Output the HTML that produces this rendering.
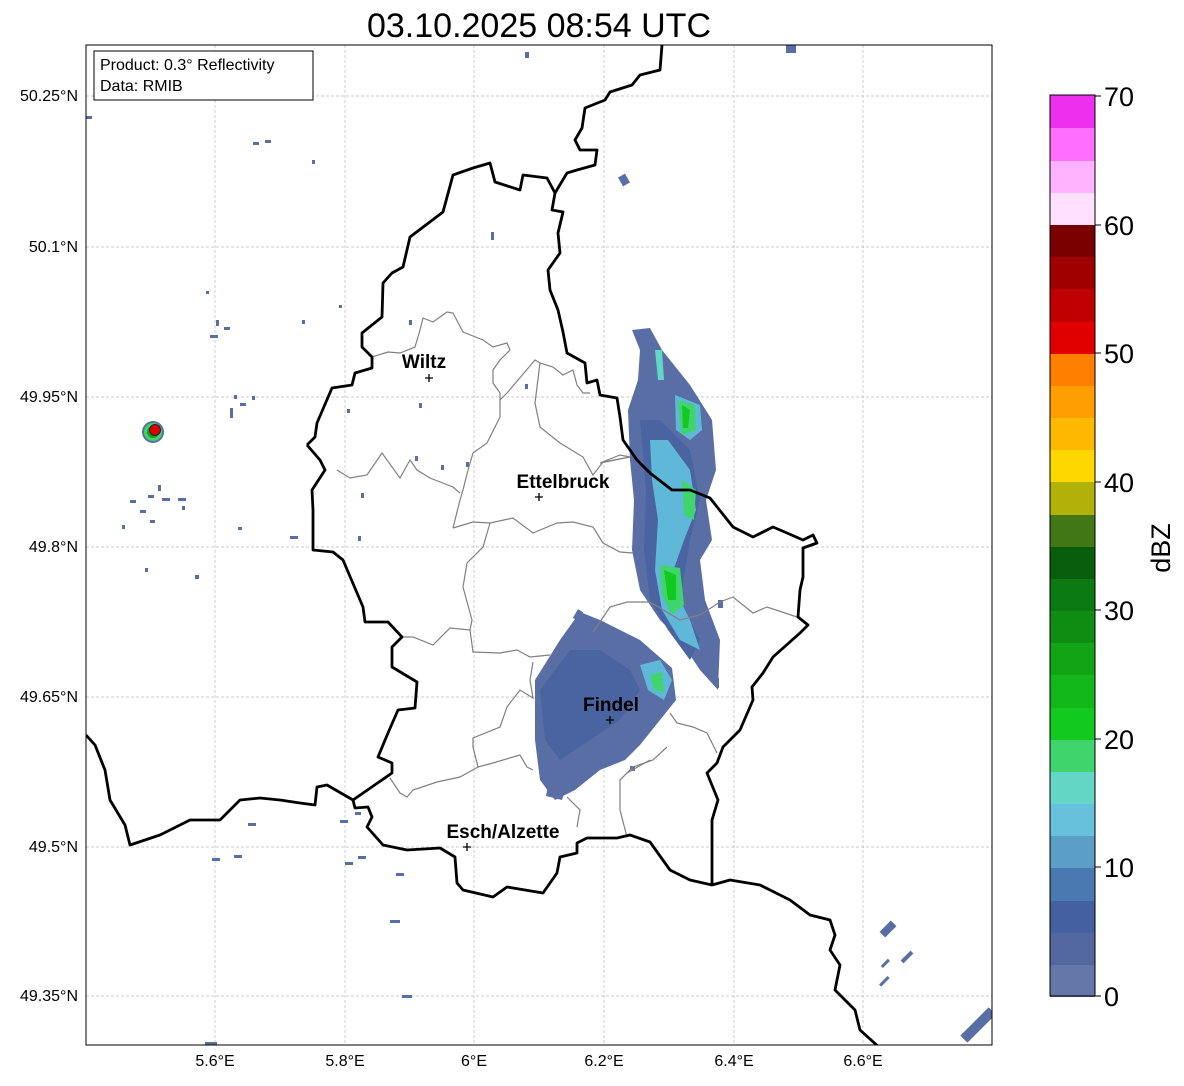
<!DOCTYPE html>
<html><head><meta charset="utf-8"><style>
body{margin:0;background:#fff;width:1184px;height:1081px;overflow:hidden;font-family:"Liberation Sans",sans-serif}
</style></head><body>
<svg width="1184" height="1081" xmlns="http://www.w3.org/2000/svg" font-family="Liberation Sans, sans-serif">
<text x="539" y="37" font-size="34" text-anchor="middle">03.10.2025 08:54 UTC</text>
<defs><clipPath id="c"><rect x="86" y="45" width="906" height="1000"/></clipPath></defs>
<g clip-path="url(#c)">
<g stroke="#bbb" stroke-width="0.7" stroke-dasharray="3,2">
<line x1="215" y1="45" x2="215" y2="1045"/><line x1="345" y1="45" x2="345" y2="1045"/><line x1="474" y1="45" x2="474" y2="1045"/><line x1="604" y1="45" x2="604" y2="1045"/><line x1="734" y1="45" x2="734" y2="1045"/><line x1="863" y1="45" x2="863" y2="1045"/>
<line x1="86" y1="96" x2="992" y2="96"/><line x1="86" y1="247" x2="992" y2="247"/><line x1="86" y1="397" x2="992" y2="397"/><line x1="86" y1="547" x2="992" y2="547"/><line x1="86" y1="697" x2="992" y2="697"/><line x1="86" y1="847" x2="992" y2="847"/><line x1="86" y1="996" x2="992" y2="996"/>
</g>
<!-- radar echoes -->
<g>
<polygon fill="#5a6ea6" points="632,330 650,328 662,350 690,385 712,420 716,470 706,500 712,540 700,560 705,600 720,640 718,690 700,670 680,640 660,620 640,590 632,550 634,500 630,460 628,410 638,380 640,350"/>
<polygon fill="#4a64a2" points="640,420 660,420 690,450 700,500 690,540 680,600 700,640 690,660 668,630 650,600 644,550 646,490"/>
<polygon fill="#5fb8d8" points="650,440 668,440 690,470 696,510 684,540 670,580 690,620 700,650 680,640 662,610 655,570 658,520 652,480"/>
<polygon fill="#63d6c6" points="655,350 662,350 664,380 658,380"/>
<polygon fill="#5fb8d8" points="675,395 700,405 702,430 690,440 676,430"/>
<polygon fill="#3fd46c" points="678,400 695,405 696,430 682,435"/>
<polygon fill="#12c920" points="682,405 690,410 688,428 683,428"/>
<polygon fill="#3fd46c" points="660,565 680,568 684,605 672,615 662,595"/>
<polygon fill="#12c920" points="664,570 676,575 676,600 668,600"/>
<polygon fill="#3fd46c" points="682,480 696,490 694,520 684,515"/>
<polygon fill="#5a6ea6" points="535,680 560,640 580,612 600,620 640,640 672,668 676,700 660,720 640,745 625,760 600,770 575,790 555,800 540,780 535,740"/>
<polygon fill="#4a64a2" points="540,690 570,650 600,650 630,670 640,690 620,720 590,740 560,760 545,740"/>
<polygon fill="#5fb8d8" points="640,665 660,660 672,680 664,700 648,690"/>
<polygon fill="#3fd46c" points="650,675 662,672 664,692 654,690"/>
<polygon fill="#5a6ea6" points="548,785 565,790 562,800 546,796"/>
<g fill="#5a6ea6">
<rect x="620" y="175" width="8" height="10" transform="rotate(-30 624 180)"/>
<rect x="491" y="232" width="3" height="8"/><rect x="525" y="52" width="4" height="6"/><rect x="786" y="45" width="10" height="8"/>
<rect x="253" y="142" width="6" height="3"/><rect x="265" y="140" width="6" height="3"/><rect x="312" y="160" width="3" height="4"/>
<rect x="86" y="116" width="6" height="3"/><rect x="206" y="291" width="3" height="3"/><rect x="210" y="335" width="8" height="3"/><rect x="224" y="327" width="6" height="3"/><rect x="216" y="320" width="3" height="6"/>
<rect x="302" y="320" width="3" height="4"/><rect x="339" y="305" width="3" height="3"/><rect x="409" y="320" width="3" height="5"/>
<rect x="234" y="395" width="3" height="4"/><rect x="230" y="408" width="3" height="10"/><rect x="240" y="403" width="6" height="3"/><rect x="252" y="396" width="3" height="4"/><rect x="347" y="409" width="3" height="4"/><rect x="419" y="403" width="3" height="5"/>
<rect x="415" y="456" width="3" height="5"/><rect x="441" y="465" width="3" height="5"/><rect x="466" y="462" width="3" height="5"/><rect x="361" y="493" width="3" height="5"/><rect x="525" y="384" width="3" height="5"/>
<rect x="130" y="500" width="6" height="3"/><rect x="148" y="495" width="6" height="3"/><rect x="158" y="485" width="3" height="6"/><rect x="162" y="498" width="8" height="3"/><rect x="178" y="498" width="8" height="3"/><rect x="140" y="510" width="6" height="3"/><rect x="150" y="520" width="5" height="3"/><rect x="122" y="525" width="3" height="4"/><rect x="182" y="506" width="3" height="4"/><rect x="238" y="527" width="4" height="3"/><rect x="290" y="536" width="8" height="3"/><rect x="358" y="536" width="3" height="5"/>
<rect x="145" y="568" width="3" height="4"/><rect x="195" y="575" width="4" height="4"/><rect x="718" y="600" width="5" height="8"/><rect x="716" y="678" width="3" height="10"/><rect x="630" y="766" width="5" height="5"/>
<rect x="248" y="823" width="8" height="3"/><rect x="212" y="858" width="8" height="3"/><rect x="234" y="855" width="8" height="3"/><rect x="340" y="820" width="8" height="3"/><rect x="355" y="812" width="6" height="3"/><rect x="345" y="862" width="8" height="3"/><rect x="358" y="856" width="8" height="3"/><rect x="396" y="873" width="8" height="3"/><rect x="390" y="920" width="10" height="3"/><rect x="402" y="995" width="10" height="3"/><rect x="205" y="1042" width="12" height="4"/>
<rect x="880" y="925" width="16" height="8" transform="rotate(-45 888 929)"/><rect x="880" y="962" width="10" height="3" transform="rotate(-45 885 963)"/><rect x="900" y="955" width="14" height="4" transform="rotate(-45 907 957)"/><rect x="878" y="980" width="12" height="3" transform="rotate(-45 884 981)"/>
<rect x="958" y="1020" width="40" height="10" transform="rotate(-45 978 1025)"/>
<rect x="575" y="610" width="6" height="10" transform="rotate(30 578 615)"/>
</g>
<circle cx="153" cy="432" r="11" fill="#5a6ea6"/><circle cx="153" cy="432" r="9" fill="#3fd46c"/><circle cx="153" cy="432" r="6" fill="#12a415"/>
<circle cx="155" cy="430" r="5.5" fill="#e00000" stroke="#222" stroke-width="1"/>
</g>
<!-- canton lines -->
<g fill="none" stroke="#808080" stroke-width="1.2">
<polyline points="372,357 388,352 400,353 415,347 420,330 423,318 433,322 447,312 453,313 463,332 483,340 493,347 507,343 510,350 500,360 493,370 493,383 500,393 500,417 487,443 473,453 468,470 463,490 460,500 453,528"/>
<polyline points="500,400 507,393 535,360 540,363 553,367 563,375 573,370 577,385 583,393 590,393"/>
<polyline points="540,363 535,403 540,427 560,443 583,457 593,475 603,462 630,457 600,463 620,455 630,457"/>
<polyline points="337,470 350,478 367,475 382,453 400,478 410,460 417,470 430,478 453,487 460,493"/>
<polyline points="453,528 473,522 490,523 513,518 533,533 557,523 573,522 593,527 603,543 620,552 633,553"/>
<polyline points="490,523 483,547 467,563 463,587 472,620 470,630 450,628 433,645 413,637 402,637"/>
<polyline points="470,630 473,652 500,653 517,650 530,657 550,655"/>
<polyline points="533,662 530,680 533,698 520,690 507,707 500,727 473,738 473,747 478,767 493,763 520,755 527,767 533,770"/>
<polyline points="478,767 460,777 437,782 413,790 407,797 400,793 390,778"/>
<polyline points="577,827 580,810 567,797"/>
<polyline points="627,837 620,810 620,780 627,773 650,760"/>
<polyline points="593,632 610,607 627,602 650,602 680,620 700,615 720,602 733,597 753,613 767,607 800,618"/>
<polyline points="670,713 677,723 693,727 707,733 717,753"/>
<polyline points="667,747 653,760 633,767 620,780"/>
</g>
<!-- borders -->
<g fill="none" stroke="#000" stroke-width="2.8" stroke-linejoin="round">
<polyline points="662,45 660,70 640,75 632,85 610,92 605,100 585,108 582,128 575,140 580,150 597,150 595,165 577,170 567,173 555,193"/>
<polyline points="307,445 315,437 317,423 332,388 352,385 355,373 372,368 372,357 362,347 362,333 382,317 383,283 392,273 403,267 410,237 443,212 453,175 473,168 490,163 495,182 520,190 523,175 547,178 555,193 552,210 563,212 558,233 560,253 548,270 550,290 558,310 563,332 567,353 585,363 587,383 597,380 600,395 617,398 620,417 623,440 637,460 650,473 672,490 690,490 710,498 733,527 753,537 773,527 787,533 803,540 813,535 817,543 803,548 803,577 800,590 798,617 808,625 800,633 773,657 763,673 752,687 753,700 740,730 723,747 717,763 707,773 718,800 712,820 712,850 712,885"/>
<polyline points="307,445 320,460 325,470 312,490 313,510 313,550 333,552 343,560 363,607 365,622 388,622 402,637 392,647 392,667 417,682 415,708 398,710 388,733 378,757 392,763 392,773 353,800 327,785 317,787 315,805 300,803 280,800 260,798 240,800 220,820 190,820 160,835 130,845 125,825 110,800 105,770 95,745 86,735"/>
<polyline points="353,800 355,808 368,807 372,817 367,827 383,845 407,850 440,848 455,857 457,883 463,890 493,897 507,887 543,893 557,873 560,857 577,853 577,843 587,838 617,838 630,835 650,842 670,870 690,880 712,885 730,880 760,885 790,900 810,915 830,920 835,935 830,950 840,965 835,990 855,1010 860,1030 880,1048"/>
</g>
<!-- cities -->
<g font-weight="bold" font-size="19" text-anchor="middle">
<text x="424" y="368">Wiltz</text><text x="563" y="488">Ettelbruck</text><text x="611" y="711">Findel</text><text x="503" y="838">Esch/Alzette</text>
</g>
<g stroke="#000" stroke-width="1.3">
<path d="M425,378h8M429,374v8"/><path d="M535,497h8M539,493v8"/><path d="M606,720h8M610,716v8"/><path d="M463,847h8M467,843v8"/>
</g>
</g>
<rect x="86" y="45" width="906" height="1000" fill="none" stroke="#000" stroke-width="1"/>
<rect x="94" y="51" width="219" height="49" fill="#fff" stroke="#000" stroke-width="1"/>
<text x="100" y="70" font-size="16">Product: 0.3° Reflectivity</text>
<text x="100" y="91" font-size="16">Data: RMIB</text>
<g font-size="16" text-anchor="middle">
<text x="215" y="1066">5.6°E</text><text x="345" y="1066">5.8°E</text><text x="474" y="1066">6°E</text><text x="604" y="1066">6.2°E</text><text x="734" y="1066">6.4°E</text><text x="863" y="1066">6.6°E</text>
</g>
<g font-size="16" text-anchor="end">
<text x="78" y="101">50.25°N</text><text x="78" y="252">50.1°N</text><text x="78" y="402">49.95°N</text><text x="78" y="552">49.8°N</text><text x="78" y="702">49.65°N</text><text x="78" y="852">49.5°N</text><text x="78" y="1001">49.35°N</text>
</g>
<!-- colorbar -->
<g>
<rect x="1050" y="964" width="45" height="33" fill="#6577a8"/>
<rect x="1050" y="932" width="45" height="33" fill="#5468a0"/>
<rect x="1050" y="900" width="45" height="33" fill="#4560a0"/>
<rect x="1050" y="868" width="45" height="33" fill="#4a78b0"/>
<rect x="1050" y="835" width="45" height="33" fill="#5b9ec6"/>
<rect x="1050" y="803" width="45" height="33" fill="#67c1dc"/>
<rect x="1050" y="771" width="45" height="33" fill="#63d6c6"/>
<rect x="1050" y="739" width="45" height="33" fill="#3fd46c"/>
<rect x="1050" y="707" width="45" height="33" fill="#12c920"/>
<rect x="1050" y="675" width="45" height="33" fill="#12b81a"/>
<rect x="1050" y="642" width="45" height="33" fill="#12a415"/>
<rect x="1050" y="610" width="45" height="33" fill="#0f8d12"/>
<rect x="1050" y="578" width="45" height="33" fill="#0b7a12"/>
<rect x="1050" y="546" width="45" height="33" fill="#095e0d"/>
<rect x="1050" y="514" width="45" height="33" fill="#417813"/>
<rect x="1050" y="482" width="45" height="33" fill="#b0b20a"/>
<rect x="1050" y="449" width="45" height="33" fill="#ffd700"/>
<rect x="1050" y="417" width="45" height="33" fill="#fdb800"/>
<rect x="1050" y="385" width="45" height="33" fill="#ff9e00"/>
<rect x="1050" y="353" width="45" height="33" fill="#ff7f00"/>
<rect x="1050" y="321" width="45" height="33" fill="#e00000"/>
<rect x="1050" y="289" width="45" height="33" fill="#c00000"/>
<rect x="1050" y="256" width="45" height="33" fill="#a00000"/>
<rect x="1050" y="224" width="45" height="33" fill="#7a0000"/>
<rect x="1050" y="192" width="45" height="33" fill="#ffe0ff"/>
<rect x="1050" y="160" width="45" height="33" fill="#ffb3ff"/>
<rect x="1050" y="128" width="45" height="33" fill="#ff6eff"/>
<rect x="1050" y="95" width="45" height="33" fill="#ee30ee"/>
<rect x="1050" y="95" width="45" height="901" fill="none" stroke="#000" stroke-width="1"/>
</g>
<g stroke="#000" stroke-width="1"><path d="M1095,96h6M1095,225h6M1095,353h6M1095,482h6M1095,610h6M1095,739h6M1095,867h6M1095,996h6"/></g>
<g font-size="27">
<text x="1104" y="106">70</text><text x="1104" y="235">60</text><text x="1104" y="363">50</text><text x="1104" y="492">40</text><text x="1104" y="620">30</text><text x="1104" y="749">20</text><text x="1104" y="877">10</text><text x="1104" y="1006">0</text>
</g>
<text x="1170" y="548" font-size="27" text-anchor="middle" transform="rotate(-90 1170 548)">dBZ</text>
</svg>
</body></html>
